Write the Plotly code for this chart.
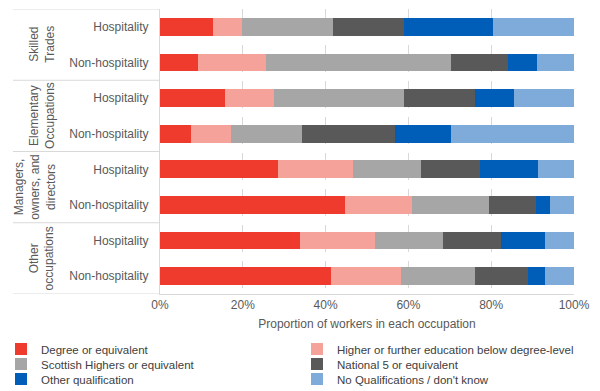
import plotly.graph_objects as go

# ---- data ----
groups = ["Skilled<br>Trades", "Elementary<br>Occupations", "Managers,<br>owners, and<br>directors", "Other<br>occupations"]
subcats = ["Hospitality", "Non-hospitality"]
row_labels = [s for g in groups for s in subcats]

series_names = [
    "Degree or equivalent",
    "Higher or further education below degree-level",
    "Scottish Highers or equivalent",
    "National 5 or equivalent",
    "Other qualification",
    "No Qualifications / don't know",
]
degree      = [12.7,  9.1, 15.8,  7.5, 28.4, 44.8, 33.7, 41.4]
higher_fe   = [ 7.1, 16.5, 11.7,  9.6, 18.2, 16.0, 18.3, 16.8]
highers     = [21.9, 44.8, 31.4, 17.3, 16.5, 18.7, 16.4, 17.9]
national5   = [17.2, 13.7, 17.2, 22.4, 14.2, 11.3, 14.0, 12.9]
other_qual  = [21.5,  6.9,  9.3, 13.4, 14.0,  3.4, 10.5,  3.9]
no_qual     = [19.6,  9.0, 14.6, 29.8,  8.7,  5.8,  7.1,  7.1]
series_values = [degree, higher_fe, highers, national5, other_qual, no_qual]
colors = ["#EE3B2D", "#F5A29B", "#A6A6A6", "#595959", "#005EB8", "#7FABDB"]

x_ticks = [0, 0.2, 0.4, 0.6, 0.8, 1.0]
x_title = "Proportion of workers in each occupation"

txt = "#595959"
leg_txt = "#404040"
font_family = "Liberation Sans, Arial, sans-serif"

# page body adds an 8px offset; figure sized to fill the rest of the window
W, H = 592, 383
L, T, PW, PH = 152, 1, 414, 285

def px_x(p):
    return (p - L) / PW

def px_y(p):
    return (T + PH - p) / PH

# legend grid: 2 columns x 3 rows, one single-entry legend per series
leg_cols_px = [-7, 289]
leg_rows_px = [326.5, 341.5, 356.5]

fig = go.Figure()
ypos = list(range(len(row_labels)))
legend_layouts = {}
for k, (name, vals, col) in enumerate(zip(series_names, series_values, colors)):
    lg = "legend" if k == 0 else f"legend{k + 1}"
    fig.add_trace(go.Bar(
        y=ypos, x=[v / 100 for v in vals], name=name, orientation="h",
        marker=dict(color=col, line=dict(width=0)), width=0.5, legend=lg,
        showlegend=True,
    ))
    legend_layouts[lg] = dict(
        x=px_x(leg_cols_px[k % 2]), y=px_y(leg_rows_px[k // 2]),
        orientation="v", xanchor="left", yanchor="top",
        font=dict(size=11.5, color=leg_txt), itemwidth=30,
        bgcolor="rgba(0,0,0,0)", visible=True,
    )

# group separators and labels
n_sub = len(subcats)
for i in range(len(groups) + 1):
    yb = i * n_sub - 0.5
    fig.add_shape(type="line", xref="paper", yref="y", x0=px_x(5), x1=0, y0=yb, y1=yb,
                  line=dict(color="#D9D9D9", width=1), layer="above")
for i, g in enumerate(groups):
    yc = i * n_sub + (n_sub - 1) / 2
    fig.add_annotation(text=g, xref="paper", yref="y", x=px_x(51), y=yc,
                       textangle=-90, showarrow=False, xanchor="right", yanchor="middle",
                       font=dict(size=12, color=txt, family=font_family))

fig.update_layout(
    barmode="stack",
    width=W, height=H,
    showlegend=True,
    margin=dict(l=L, r=W - L - PW, t=T, b=H - T - PH, autoexpand=False),
    plot_bgcolor="white", paper_bgcolor="white",
    font=dict(family=font_family, size=12, color=txt),
    xaxis=dict(range=[0, 1], tickvals=x_ticks, tickformat=".0%", showgrid=True,
               gridcolor="#D9D9D9", griddash="dash", gridwidth=1, zeroline=False,
               showline=True, linecolor="#D9D9D9", linewidth=1, automargin=False,
               title=dict(text=x_title, font=dict(size=12, color=txt), standoff=8),
               tickfont=dict(size=12, color=txt), ticks=""),
    yaxis=dict(range=[len(row_labels) - 0.5, -0.5], tickvals=ypos, ticktext=row_labels,
               showgrid=False, zeroline=False, showline=True, linecolor="#D9D9D9",
               linewidth=1, ticks="", ticklabelstandoff=8, automargin=False,
               tickfont=dict(size=12, color=txt)),
    **legend_layouts,
)

fig.write_html("out.html")
